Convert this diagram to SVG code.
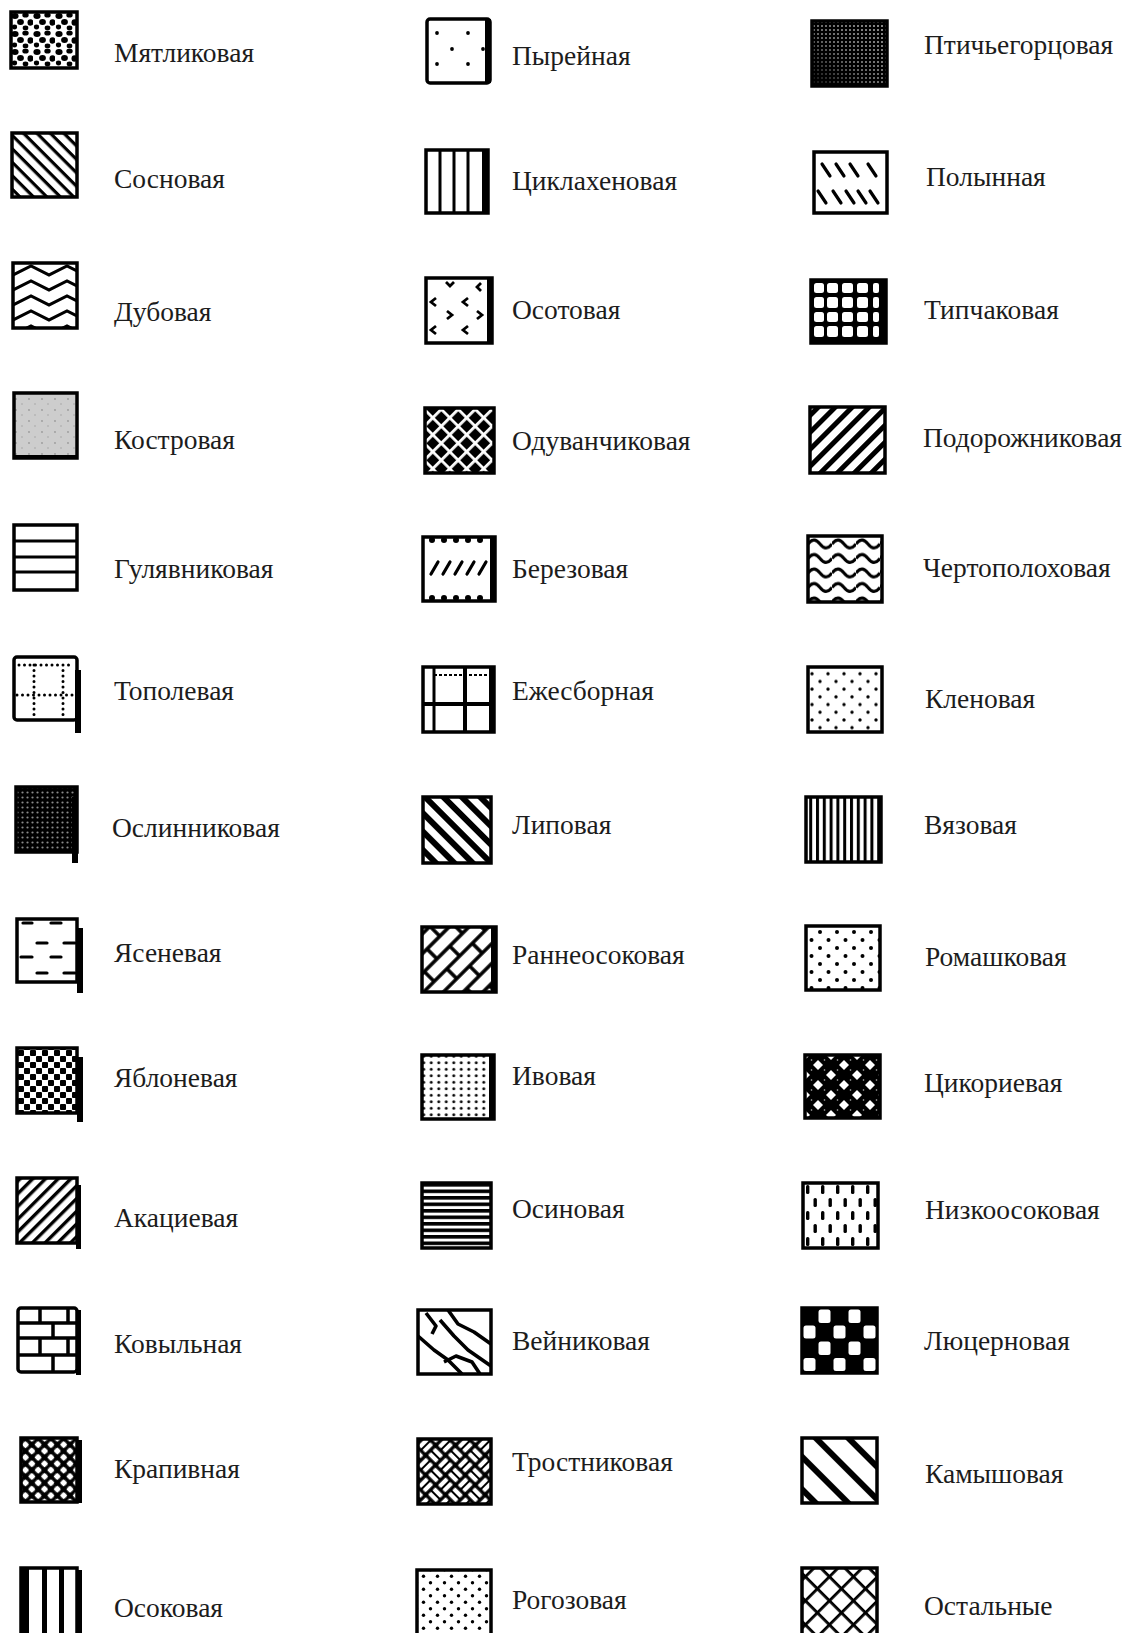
<svg xmlns="http://www.w3.org/2000/svg" width="1130" height="1633" viewBox="0 0 1130 1633">
<style>
.t{font-family:"Liberation Serif","Times New Roman",serif;font-size:27.5px;fill:#1c1c1c}
.b{stroke:#000;stroke-width:3.5}
.w{fill:#fff}
.k{fill:#000}
.ln{stroke:#000;stroke-width:3;fill:none}
.dl{stroke:#000;stroke-width:3.2;fill:none;stroke-linecap:round}
.dot{stroke:#000;stroke-width:3;fill:none;stroke-linecap:round;stroke-dasharray:0 5.5}
</style>
<defs>
<pattern id="pBlobs" width="22" height="18" patternUnits="userSpaceOnUse" x="11" y="12"><rect width="22" height="18" fill="#fff"/><ellipse cx="4" cy="4" rx="3.6" ry="3"/><ellipse cx="14.5" cy="3" rx="3.2" ry="2.6"/><ellipse cx="9.5" cy="10" rx="3.4" ry="3"/><ellipse cx="19.5" cy="10.5" rx="3" ry="3.2"/><ellipse cx="3.5" cy="15" rx="2.6" ry="2.4"/><ellipse cx="14.5" cy="16" rx="2.8" ry="2.4"/></pattern>
<pattern id="pBack" width="9.5" height="9.5" patternUnits="userSpaceOnUse" patternTransform="rotate(45)"><rect width="9.5" height="9.5" fill="#fff"/><rect width="9.5" height="3.2"/></pattern>
<pattern id="pFwd" width="9" height="9" patternUnits="userSpaceOnUse" patternTransform="rotate(-45)"><rect width="9" height="9" fill="#fff"/><rect width="9" height="3.4"/></pattern>
<pattern id="pZig" width="36" height="15" patternUnits="userSpaceOnUse" x="13" y="263"><rect width="36" height="15" fill="#fff"/><path d="M-18,3 L0,12 L18,3 L36,12 L54,3" stroke="#000" stroke-width="3" fill="none"/></pattern>
<pattern id="pGray" width="13" height="11" patternUnits="userSpaceOnUse"><rect width="13" height="11" fill="#cdcdcd"/><circle cx="3" cy="3" r="0.9" fill="#9a9a9a"/><circle cx="9" cy="8" r="0.8" fill="#a5a5a5"/></pattern>
<pattern id="pDark" width="5" height="5" patternUnits="userSpaceOnUse"><rect width="5" height="5"/><circle cx="2.5" cy="2.5" r="1.1" fill="#8a8a8a"/></pattern>
<pattern id="pCheck" width="12" height="12" patternUnits="userSpaceOnUse"><rect width="12" height="12" fill="#fff"/><rect width="6" height="6" rx="1"/><rect x="6" y="6" width="6" height="6" rx="1"/></pattern>
<pattern id="pCross" width="9" height="9" patternUnits="userSpaceOnUse" patternTransform="rotate(45)"><rect width="9" height="9"/><rect x="1.7" y="1.7" width="5.6" height="5.6" rx="1.5" fill="#fff"/></pattern>
<pattern id="pWGrid" width="12" height="12" patternUnits="userSpaceOnUse" patternTransform="rotate(45)"><rect width="12" height="12"/><rect width="12" height="2.8" fill="#fff"/><rect width="2.8" height="12" fill="#fff"/></pattern>
<pattern id="pLip" width="13" height="13" patternUnits="userSpaceOnUse" patternTransform="rotate(45)"><rect width="13" height="13" fill="#fff"/><rect width="13" height="6"/></pattern>
<pattern id="pBrick" width="36" height="28" patternUnits="userSpaceOnUse" patternTransform="rotate(-45)"><rect width="36" height="28" fill="#fff"/><path d="M0,7H36M0,21H36M9,7V21M27,21V28M27,0V7" stroke="#000" stroke-width="3.5" fill="none"/></pattern>
<pattern id="pDotGrid" width="7.5" height="6.5" patternUnits="userSpaceOnUse"><rect width="7.5" height="6.5" fill="#fff"/><circle cx="3.75" cy="3.25" r="1.5"/></pattern>
<pattern id="pHL" width="10" height="6.5" patternUnits="userSpaceOnUse"><rect width="10" height="6.5" fill="#fff"/><rect width="10" height="3.6"/></pattern>
<pattern id="pWeave" width="28" height="28" patternUnits="userSpaceOnUse" patternTransform="rotate(45)"><rect width="28" height="28"/><g fill="#fff"><rect x="1.5" y="1.8" width="11" height="4.2" rx="1"/><rect x="1.5" y="8" width="11" height="4.2" rx="1"/><rect x="15.5" y="15.8" width="11" height="4.2" rx="1"/><rect x="15.5" y="22" width="11" height="4.2" rx="1"/><rect x="15.8" y="1.5" width="4.2" height="11" rx="1"/><rect x="22" y="1.5" width="4.2" height="11" rx="1"/><rect x="1.8" y="15.5" width="4.2" height="11" rx="1"/><rect x="8" y="15.5" width="4.2" height="11" rx="1"/></g></pattern>
<pattern id="pSparse" width="14" height="13" patternUnits="userSpaceOnUse"><rect width="14" height="13" fill="#fff"/><circle cx="3.5" cy="3.2" r="1.7"/><circle cx="10.5" cy="9.7" r="1.7"/></pattern>
<pattern id="pHalf" width="4" height="4" patternUnits="userSpaceOnUse"><rect width="4" height="4"/><circle cx="2" cy="2" r="0.95" fill="#c8c8c8"/></pattern>
<linearGradient id="gShade" x1="1" y1="0" x2="0" y2="1"><stop offset="0" stop-color="#000" stop-opacity="0"/><stop offset="0.55" stop-color="#000" stop-opacity="0.25"/><stop offset="1" stop-color="#000" stop-opacity="0.9"/></linearGradient>
<pattern id="pFwdThick" width="12" height="12" patternUnits="userSpaceOnUse" patternTransform="rotate(-45)"><rect width="12" height="12" fill="#fff"/><rect width="12" height="5"/></pattern>
<pattern id="pWave" width="24" height="14.5" patternUnits="userSpaceOnUse" x="808" y="536"><rect width="24" height="14.5" fill="#fff"/><path d="M0,8 Q6,0 12,8 Q18,16 24,8" stroke="#000" stroke-width="3" fill="none"/></pattern>
<pattern id="pDots16" width="16" height="15.4" patternUnits="userSpaceOnUse"><rect width="16" height="15.4" fill="#fff"/><circle cx="4" cy="3.85" r="1.7"/><circle cx="12" cy="11.55" r="1.7"/></pattern>
<pattern id="pVL" width="6.8" height="10" patternUnits="userSpaceOnUse"><rect width="6.8" height="10" fill="#fff"/><rect width="3" height="10"/></pattern>
<pattern id="pDots2" width="17" height="16" patternUnits="userSpaceOnUse"><rect width="17" height="16" fill="#fff"/><circle cx="4" cy="4" r="2"/><circle cx="12.5" cy="12" r="2"/></pattern>
<pattern id="pChic" width="26" height="20" patternUnits="userSpaceOnUse" x="805" y="1055"><rect width="26" height="20"/><g fill="#fff"><path d="M13,5L18,10L13,15L8,10Z"/><path d="M0,-5L5,0L0,5L-5,0Z"/><path d="M26,-5L31,0L26,5L21,0Z"/><path d="M0,15L5,20L0,25L-5,20Z"/><path d="M26,15L31,20L26,25L21,20Z"/></g><g fill="#bbb"><circle cx="6.5" cy="5" r="0.8"/><circle cx="19.5" cy="5" r="0.8"/><circle cx="6.5" cy="15" r="0.8"/><circle cx="19.5" cy="15" r="0.8"/></g></pattern>
<pattern id="pVDash" width="15" height="26" patternUnits="userSpaceOnUse" x="803" y="1183"><rect width="15" height="26" fill="#fff"/><rect x="3" y="2" width="3.4" height="9" rx="1.5"/><rect x="10.5" y="15" width="3.4" height="9" rx="1.5"/></pattern>
<pattern id="pBroad" width="23" height="23" patternUnits="userSpaceOnUse" patternTransform="rotate(45)"><rect width="23" height="23" fill="#fff"/><rect width="23" height="6"/></pattern>
<pattern id="pX" width="17" height="17" patternUnits="userSpaceOnUse" patternTransform="rotate(45)"><rect width="17" height="17" fill="#fff"/><rect width="17" height="2.8"/><rect width="2.8" height="17"/></pattern>
</defs>

<!-- Column 1 -->
<g id="n-myatlikovaya"><rect x="11" y="12" width="66" height="56" fill="url(#pBlobs)" class="b"/><text class="t" x="114" y="62">Мятликовая</text></g>
<g id="n-sosnovaya"><rect x="12" y="133" width="65" height="64" fill="url(#pBack)" class="b"/><text class="t" x="114" y="188">Сосновая</text></g>
<g id="n-dubovaya"><rect x="13" y="263" width="64" height="65" fill="url(#pZig)" class="b"/><text class="t" x="114" y="321">Дубовая</text></g>
<g id="n-kostrovaya"><rect x="14" y="393" width="63" height="65" fill="url(#pGray)" class="b"/><rect x="14" y="455" width="63" height="4" class="k"/><text class="t" x="114" y="449">Костровая</text></g>
<g id="n-gulyavnikovaya"><rect x="14" y="525" width="63" height="65" class="w b"/><path class="ln" d="M14,541H77M14,557H77M14,572H77"/><text class="t" x="114" y="578">Гулявниковая</text></g>
<g id="n-topolevaya"><rect x="14" y="657" width="63" height="63" rx="3" class="w b"/><path class="dot" d="M19,665H74M17,695H74M34,665V718M63,665V718"/><rect x="75" y="670" width="6" height="63" class="k"/><text class="t" x="114" y="700">Тополевая</text></g>
<g id="n-oslinnikovaya"><rect x="16" y="787" width="61" height="65" fill="url(#pDark)" class="b"/><rect x="72" y="797" width="6" height="66" class="k"/><text class="t" x="112" y="837">Ослинниковая</text></g>
<g id="n-yasenevaya"><rect x="17" y="919" width="60" height="63" class="w b"/><path class="dl" d="M23,923H32M51,923H61M37,943H47M64,943H75M21,957H32M51,957H61M37,973H47M64,973H75"/><rect x="77" y="928" width="6" height="65" class="k"/><text class="t" x="114" y="962">Ясеневая</text></g>
<g id="n-yablonevaya"><rect x="17" y="1048" width="60" height="65" fill="url(#pCheck)" class="b"/><rect x="77" y="1057" width="6" height="65" class="k"/><text class="t" x="114" y="1087">Яблоневая</text></g>
<g id="n-akacievaya"><rect x="17" y="1178" width="60" height="65" fill="url(#pFwd)" class="b"/><rect x="76" y="1185" width="5" height="64" class="k"/><text class="t" x="114" y="1227">Акациевая</text></g>
<g id="n-kovylnaya"><rect x="18" y="1308" width="59" height="64" rx="3" class="w b"/><path d="M18,1323H77M18,1338H77M18,1355H77M40,1308V1323M68,1308V1323M53,1323V1338M40,1338V1355M68,1338V1355M53,1355V1372" stroke="#000" stroke-width="3.5" fill="none"/><rect x="76" y="1310" width="5" height="65" class="k"/><text class="t" x="114" y="1353">Ковыльная</text></g>
<g id="n-krapivnaya"><rect x="21" y="1438" width="56" height="64" fill="url(#pCross)" class="b"/><rect x="77" y="1440" width="5" height="63" class="k"/><text class="t" x="114" y="1478">Крапивная</text></g>
<g id="n-osokovaya"><rect x="21" y="1568" width="56" height="67" class="w b"/><rect x="21" y="1568" width="8" height="65" class="k"/><rect x="42" y="1568" width="5" height="65" class="k"/><rect x="59" y="1568" width="5" height="65" class="k"/><rect x="77" y="1570" width="5" height="63" class="k"/><text class="t" x="114" y="1617">Осоковая</text></g>

<!-- Column 2 -->
<g id="n-pyreynaya"><rect x="427" y="19" width="63" height="64" rx="3" class="w b"/><rect x="485" y="19" width="6" height="64" class="k"/><g class="k"><circle cx="437" cy="33" r="1.9"/><circle cx="468" cy="33" r="1.9"/><circle cx="452" cy="49" r="1.9"/><circle cx="437" cy="64" r="1.9"/><circle cx="468" cy="64" r="1.9"/><circle cx="483" cy="49" r="1.9"/></g><text class="t" x="512" y="65">Пырейная</text></g>
<g id="n-ciklahenovaya"><rect x="426" y="150" width="62" height="63" class="w b"/><path class="ln" d="M440,150V213M454,150V213M468,150V213"/><rect x="482" y="150" width="6" height="63" class="k"/><text class="t" x="512" y="190">Циклахеновая</text></g>
<g id="n-osotovaya"><rect x="426" y="278" width="66" height="65" class="w b"/><path d="M446,282L450,286L454,282M481,283L477,287L481,291M436,298L431,302L436,306M468,298L463,302L468,306M447,311L452,315L447,319M477,311L482,315L477,319M436,326L431,330L436,334M468,326L463,330L468,334" stroke="#000" stroke-width="2.8" fill="none"/><rect x="487" y="278" width="5" height="65" class="k"/><text class="t" x="512" y="319">Осотовая</text></g>
<g id="n-oduvanchikovaya"><rect x="425" y="408" width="69" height="65" fill="url(#pWGrid)" class="b"/><text class="t" x="512" y="450">Одуванчиковая</text></g>
<g id="n-berezovaya"><rect x="423" y="537" width="72" height="64" class="w b"/><g class="k"><circle cx="432" cy="540" r="3"/><circle cx="444" cy="540" r="3"/><circle cx="456" cy="540" r="3"/><circle cx="468" cy="540" r="3"/><circle cx="480" cy="540" r="3"/><circle cx="432" cy="598" r="3"/><circle cx="444" cy="598" r="3"/><circle cx="456" cy="598" r="3"/><circle cx="468" cy="598" r="3"/><circle cx="480" cy="598" r="3"/></g><path class="dl" d="M431,574L438,562M443,574L450,562M455,574L462,562M467,574L474,562M479,574L486,562"/><rect x="490" y="537" width="5" height="64" class="k"/><text class="t" x="512" y="578">Березовая</text></g>
<g id="n-ezhesbornaya"><rect x="423" y="667" width="71" height="65" class="w b"/><path d="M434,667V732" stroke="#000" stroke-width="3" fill="none"/><path d="M465,667V732M423,704H494" stroke="#000" stroke-width="4" fill="none"/><path d="M434,675H494" stroke="#000" stroke-width="2" stroke-dasharray="3 2" fill="none"/><rect x="489" y="667" width="5" height="65" class="k"/><text class="t" x="512" y="700">Ежесборная</text></g>
<g id="n-lipovaya"><rect x="423" y="797" width="68" height="66" fill="url(#pLip)" class="b"/><text class="t" x="512" y="834">Липовая</text></g>
<g id="n-ranneosokovaya"><rect x="422" y="927" width="74" height="65" fill="url(#pBrick)" class="b"/><rect x="491" y="927" width="5" height="65" class="k"/><text class="t" x="512" y="964">Раннеосоковая</text></g>
<g id="n-ivovaya"><rect x="422" y="1055" width="72" height="64" fill="url(#pDotGrid)" class="b"/><rect x="489" y="1055" width="5" height="64" class="k"/><text class="t" x="512" y="1085">Ивовая</text></g>
<g id="n-osinovaya"><rect x="422" y="1183" width="69" height="65" fill="url(#pHL)" class="b"/><text class="t" x="512" y="1218">Осиновая</text></g>
<g id="n-veynikovaya"><rect x="418" y="1310" width="73" height="64" class="w b"/><g transform="translate(418,1310)" stroke="#000" stroke-width="3.6" fill="none" stroke-linejoin="round"><path d="M8,3L18,16L14,24"/><path d="M30,0L40,14L56,22L73,34"/><path d="M22,10L36,26L50,40L73,56"/><path d="M0,26L16,40L30,50L44,64"/><path d="M26,52L38,46L54,52L62,64"/></g><text class="t" x="512" y="1350">Вейниковая</text></g>
<g id="n-trostnikovaya"><rect x="418" y="1439" width="73" height="65" fill="url(#pWeave)" class="b"/><text class="t" x="512" y="1471">Тростниковая</text></g>
<g id="n-rogozovaya"><rect x="417" y="1570" width="74" height="65" fill="url(#pSparse)" class="b"/><text class="t" x="512" y="1609">Рогозовая</text></g>

<!-- Column 3 -->
<g id="n-ptichegorcovaya"><rect x="812" y="21" width="75" height="65" fill="url(#pHalf)" class="b"/><rect x="812" y="21" width="75" height="65" fill="url(#gShade)"/><text class="t" x="924" y="54">Птичьегорцовая</text></g>
<g id="n-polynnaya"><rect x="814" y="152" width="73" height="61" class="w b"/><path class="dl" d="M822,164L830,176M836,164L844,176M850,164L858,176M868,164L876,176M818,191L826,203M833,191L841,203M846,191L854,203M858,191L866,203M870,191L878,203"/><text class="t" x="926" y="186">Полынная</text></g>
<g id="n-tipchakovaya"><rect x="811" y="280" width="75" height="63" class="k b"/><g class="w"><rect x="814" y="283" width="10" height="10" rx="2.5"/><rect x="827" y="283" width="11" height="10" rx="2.5"/><rect x="842" y="283" width="11" height="10" rx="2.5"/><rect x="857" y="283" width="11" height="10" rx="2.5"/><rect x="873" y="283" width="6" height="10" rx="2"/><rect x="814" y="297" width="10" height="11" rx="2.5"/><rect x="827" y="297" width="11" height="11" rx="2.5"/><rect x="842" y="297" width="11" height="11" rx="2.5"/><rect x="857" y="297" width="11" height="11" rx="2.5"/><rect x="873" y="297" width="6" height="11" rx="2"/><rect x="814" y="312" width="10" height="10" rx="2.5"/><rect x="827" y="312" width="11" height="10" rx="2.5"/><rect x="842" y="312" width="11" height="10" rx="2.5"/><rect x="857" y="312" width="11" height="10" rx="2.5"/><rect x="873" y="312" width="6" height="10" rx="2"/><rect x="814" y="326" width="10" height="11" rx="2.5"/><rect x="827" y="326" width="11" height="11" rx="2.5"/><rect x="842" y="326" width="11" height="11" rx="2.5"/><rect x="857" y="326" width="11" height="11" rx="2.5"/><rect x="873" y="326" width="6" height="11" rx="2"/></g><text class="t" x="924" y="319">Типчаковая</text></g>
<g id="n-podorozhnikovaya"><rect x="810" y="407" width="75" height="66" fill="url(#pFwdThick)" class="b"/><text class="t" x="923" y="447">Подорожниковая</text></g>
<g id="n-chertopolohovaya"><rect x="808" y="536" width="74" height="66" fill="url(#pWave)" class="b"/><text class="t" x="923" y="577">Чертополоховая</text></g>
<g id="n-klenovaya"><rect x="808" y="667" width="74" height="65" fill="url(#pDots16)" class="b"/><text class="t" x="925" y="708">Кленовая</text></g>
<g id="n-vyazovaya"><rect x="806" y="797" width="75" height="65" fill="url(#pVL)" class="b"/><text class="t" x="924" y="834">Вязовая</text></g>
<g id="n-romashkovaya"><rect x="806" y="926" width="74" height="64" fill="url(#pDots2)" class="b"/><text class="t" x="925" y="966">Ромашковая</text></g>
<g id="n-cikorievaya"><rect x="805" y="1055" width="75" height="63" fill="url(#pChic)" class="b"/><text class="t" x="924" y="1092">Цикориевая</text></g>
<g id="n-nizkoosokovaya"><rect x="803" y="1183" width="75" height="65" fill="url(#pVDash)" class="b"/><text class="t" x="925" y="1219">Низкоосоковая</text></g>
<g id="n-lyucernovaya"><rect x="802" y="1308" width="75" height="65" class="k b"/><g class="w"><rect x="818.5" y="1309.5" width="12" height="13.5" rx="2.5"/><rect x="848.5" y="1309.5" width="12" height="13.5" rx="2.5"/><rect x="803.5" y="1325.5" width="12" height="13" rx="2.5"/><rect x="833.5" y="1325.5" width="12" height="13" rx="2.5"/><rect x="863.5" y="1325.5" width="12" height="13" rx="2.5"/><rect x="818.5" y="1341.5" width="12" height="13.5" rx="2.5"/><rect x="848.5" y="1341.5" width="12" height="13.5" rx="2.5"/><rect x="803.5" y="1358" width="12" height="13" rx="2.5"/><rect x="833.5" y="1358" width="12" height="13" rx="2.5"/><rect x="863.5" y="1358" width="12" height="13" rx="2.5"/></g><text class="t" x="924" y="1350">Люцерновая</text></g>
<g id="n-kamyshovaya"><rect x="802" y="1438" width="75" height="65" fill="url(#pBroad)" class="b"/><text class="t" x="925" y="1483">Камышовая</text></g>
<g id="n-ostalnye"><rect x="802" y="1568" width="75" height="67" fill="url(#pX)" class="b"/><text class="t" x="924" y="1615">Остальные</text></g>
<g id="connectors"/>
</svg>
